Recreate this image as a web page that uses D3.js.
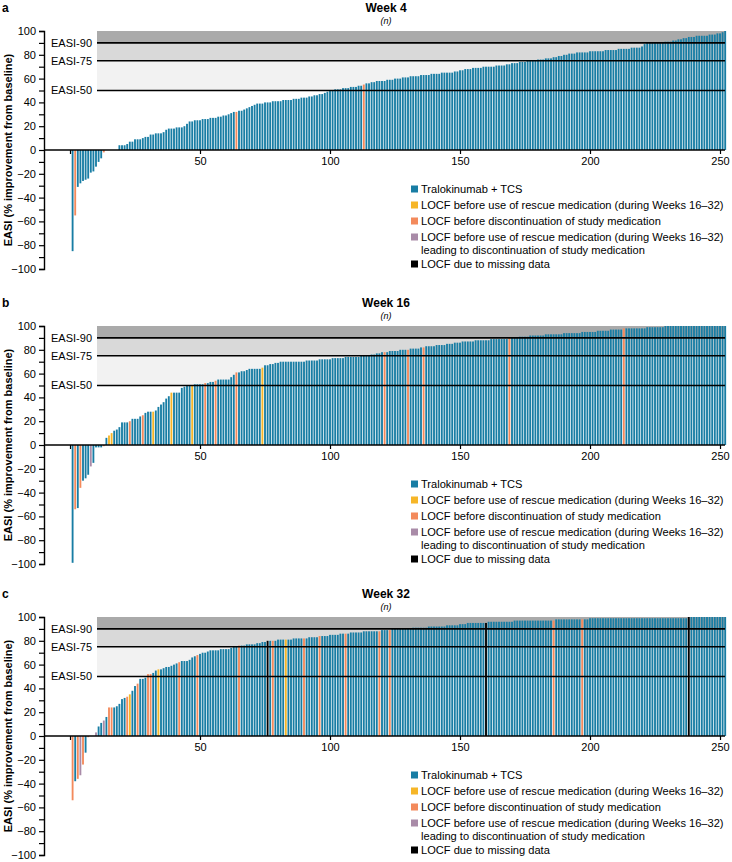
<!DOCTYPE html>
<html><head><meta charset="utf-8">
<script src="https://cdn.jsdelivr.net/npm/d3@7"></script>
<style>body{margin:0;background:#fff}svg{display:block;font-family:"Liberation Sans",Arial,sans-serif}</style>
</head><body><svg id="chart" width="732" height="862"></svg>
<script>
// ---------- DATA ----------
const panelLetters = ["a", "b", "c"];
const weekLabels = ["Week 4", "Week 16", "Week 32"];
const xTickValues = [0, 50, 100, 150, 200, 250];
const yTickValues = d3.range(-100, 101, 10);
const thresholds = [90, 75, 50];
const thresholdLabels = ["EASI-90", "EASI-75", "EASI-50"];

const week4 = [
 -85,-55,-31,-28,-26,-25,-24,-19,-18,-14,-10,-7,-2,
 0,0,0,0,0,
 4,4,4,5,7,7, 9,9,9,10,11,11, 13,13,14,14,14,15, 17,18,18,18,19,19,
 19,20,22,24,24,25, 25,25,26,26,26,27, 27,27,28,28,29,29, 30,31,32,32,33,33,
 34,35,36,37,38,39, 39,39,40,40,40,41, 41,41,41,42,42,42, 42,43,43,43,44,44,
 44,45,45,46,46,47, 47,48,49,50,50,51, 51,51,52,52,52,53, 53,53,54,54,55,56,
 56,57,57,58,58,58, 58,59,59,59,60,60, 60,61,61,61,62,62, 62,62,63,63,63,63,
 64,64,64,64,65,65, 65,65,65,66,66,67, 67,68,68,68,69,69, 69,69,70,70,70,70,
 70,71,71,71,71,72, 72,73,73,73,74,74, 74,75,75,75,75,76, 76,76,77,77,77,78,
 78,79,79,80,80,81, 81,81,82,82,82,82, 82,83,83,83,83,83, 83,84,84,84,84,84,
 85,85,85,85,85,86, 86,86,86,87,89,90, 90,90,90,90,90,90, 91,91,91,92,92,93,
 93,94,94,95,95,95, 96,96,96,96,96,97, 97,97,98,98,99,100
];
const week16 = [
 -99,-54,-53,-36,-30,-28,-25,-18,-15,-2,-2,-2,-1,
 6,8,10,12,13,15, 19,19,19,20,22,22, 22,24,25,27,28,28, 28,29,32,34,36,39,
 41,44,44,44,44,48, 49,50,50,50,51,51, 51,51,52,52,53,53, 54,55,55,55,55,55,
 57,59,61,61,62,62, 63,64,64,64,64,64, 65,67,67,68,68,69, 69,70,70,70,70,70,
 70,70,70,70,70,71, 71,71,71,71,72,72, 72,72,72,73,73,73, 73,73,74,74,74,74,
 74,74,75,75,75,75, 76,76,77,77,78,78, 78,79,79,79,79,80, 80,80,80,81,81,81,
 81,82,82,83,83,83, 83,84,84,84,84,85, 85,85,86,86,86,87, 87,87,87,87,88,88,
 88,88,88,88,89,89, 89,89,89,89,89,90, 90,90,90,91,91,91, 91,92,92,92,92,92,
 92,93,93,93,93,93, 93,93,94,94,94,94, 94,94,94,95,95,95, 95,95,95,96,96,96,
 96,96,97,97,97,97, 97,98,98,98,98,98, 98,98,98,98,99,99, 99,99,99,99,99,100,
 100,100,100,100,100,100, 100,100,100,100,100,100, 100,100,100,100,100,100, 100,100,100,100,100
];
const week32 = [
 -54,-38,-36,-33,-24,-14, -1,0,0,3,8,11, 13,16,24,24,24,25, 27,31,32,33,35,38,
 42,44,48,48,49,52, 52,53,55,56,56,57, 58,58,59,60,61,62, 63,63,63,64,66,67,
 68,69,70,70,71,72, 72,72,72,73,73,73, 73,74,75,75,76,76, 76,77,77,77,77,78,
 78,79,79,80,80,80, 80,81,81,81,81,81, 81,82,82,82,82,82, 82,83,83,83,83,84,
 84,84,84,85,85,85, 85,86,86,86,86,87, 87,87,87,87,88,88, 88,88,88,88,88,89,
 89,89,89,90,90,90, 90,90,90,90,90,91, 91,91,91,91,91,92, 92,92,92,92,92,92,
 93,93,93,93,93,94, 94,94,95,95,95,95, 95,95,95,95,96,96, 96,96,96,96,96,96,
 96,96,97,97,97,97, 97,97,97,97,97,97, 97,97,97,97,97,97, 98,98,98,98,98,98,
 98,98,98,98,98,98, 98,99,99,99,99,99, 99,99,99,99,99,99, 99,99,99,99,99,99,
 99,99,99,99,99,99, 99,99,99,99,99,99, 99,99,99,99,99,99, 99,99,99,100,100,100,
 100,100,100,100,100,100, 100,100,100,100,100,100
];
// patient ranks (1-based) with imputed values, by category
const rescue4 = [], discont4 = [2, 13, 64, 113], rescueDisc4 = [], missing4 = [];
const rescue16 = [15, 16, 32, 39, 47, 74];
const discont16 = [2, 4, 13, 23, 28, 52, 56, 64, 121, 130, 136, 169, 213];
const rescueDisc16 = [8], missing16 = [];
const rescue32 = [23, 34, 83];
const discont32 = [1, 3, 5, 7, 15, 16, 22, 26, 30, 31, 42, 49, 65, 78, 90, 96, 106, 119, 123, 186, 197];
const rescueDisc32 = [4, 10, 13], missing32 = [76, 160, 238];

const legendLabels = [
  ["Tralokinumab + TCS"],
  ["LOCF before use of rescue medication (during Weeks 16\u201332)"],
  ["LOCF before discontinuation of study medication"],
  ["LOCF before use of rescue medication (during Weeks 16\u201332)", "leading to discontinuation of study medication"],
  ["LOCF due to missing data"]
];
const categoryKeys = ["tralo", "rescue", "discont", "rescueDisc", "missing"];

// ---------- STYLE / LAYOUT ----------
const colors = { tralo: "#187da4", rescue: "#f6b628", discont: "#f38a5c", rescueDisc: "#a98ba8", missing: "#000000" };
const bandColors = ["#aaaaaa", "#d9d9d9", "#f2f2f2"];
const zeros = [150, 445, 736];
const halfH = 119;
const axisX = 44, bandX0 = 97, plotRight = 725;

const panels = [
  { values: week4, cats: { rescue: rescue4, discont: discont4, rescueDisc: rescueDisc4, missing: missing4 } },
  { values: week16, cats: { rescue: rescue16, discont: discont16, rescueDisc: rescueDisc16, missing: missing16 } },
  { values: week32, cats: { rescue: rescue32, discont: discont32, rescueDisc: rescueDisc32, missing: missing32 } }
];

const svg = d3.select("#chart");
const x = d3.scaleLinear().domain([0, 250]).range([70, 720]);
const barW = 1.85;

panels.forEach((p, k) => {
  const z = zeros[k];
  const y = d3.scaleLinear().domain([-100, 100]).range([z + halfH, z - halfH]);
  const g = svg.append("g");
  const catOf = new Map();
  Object.entries(p.cats).forEach(([key, arr]) => arr.forEach(r => catOf.set(r, key)));
  const rows = p.values.map((v, i) => ({ rank: i + 1, v, cat: catOf.get(i + 1) || "tralo" }));

  // threshold bands
  const bandEdges = [100, 90, 75, 50];
  bandColors.forEach((c, j) => {
    g.append("rect").attr("x", bandX0).attr("width", plotRight - bandX0)
      .attr("y", y(bandEdges[j])).attr("height", y(bandEdges[j + 1]) - y(bandEdges[j]))
      .attr("fill", c);
  });

  // bars
  g.selectAll("rect.bar").data(rows.filter(d => d.v !== 0)).join("rect")
    .attr("class", "bar")
    .attr("x", d => x(d.rank) - barW / 2)
    .attr("width", barW)
    .attr("y", d => y(Math.max(0, d.v)))
    .attr("height", d => Math.abs(y(d.v) - y(0)))
    .attr("fill", d => colors[d.cat]);

  // threshold lines + labels
  thresholds.forEach((t, j) => {
    g.append("line").attr("x1", bandX0).attr("x2", plotRight)
      .attr("y1", y(t)).attr("y2", y(t)).attr("stroke", "#000").attr("stroke-width", 1.6);
    g.append("text").attr("x", bandX0 - 5).attr("y", y(t)).attr("dy", "0.35em")
      .attr("text-anchor", "end").attr("font-size", 11).text(thresholdLabels[j]);
  });

  // y axis
  const ya = d3.axisLeft(y).tickValues(yTickValues).tickSize(5).tickPadding(3)
    .tickFormat(d => d % 20 === 0 ? (d < 0 ? "\u2212" + Math.abs(d) : d) : "");
  const yg = g.append("g").attr("transform", `translate(${axisX},0)`).call(ya);
  yg.select(".domain").attr("stroke-width", 1.4);
  yg.selectAll(".tick line").attr("stroke-width", 1.2);
  yg.selectAll("text").attr("font-size", 11).attr("font-family", "Liberation Sans, Arial, sans-serif");

  // x axis at zero
  const xa = d3.axisBottom(x).tickValues(xTickValues).tickSize(4).tickPadding(3)
    .tickFormat(d => d === 0 ? "" : d);
  const xg = g.append("g").attr("transform", `translate(0,${y(0)})`).call(xa);
  xg.select(".domain").attr("d", `M${axisX},0H${plotRight}`).attr("stroke-width", 1.4);
  xg.selectAll(".tick line").attr("stroke-width", 1.2);
  xg.selectAll("text").attr("font-size", 11).attr("font-family", "Liberation Sans, Arial, sans-serif");

  // titles
  g.append("text").attr("x", 2).attr("y", z - 138).attr("font-size", 12).attr("font-weight", "bold").text(panelLetters[k]);
  g.append("text").attr("x", 386).attr("y", z - 138).attr("text-anchor", "middle")
    .attr("font-size", 12).attr("font-weight", "bold").text(weekLabels[k]);
  g.append("text").attr("x", 386).attr("y", z - 126).attr("text-anchor", "middle")
    .attr("font-size", 9).attr("font-style", "italic").text("(n)");

  // y title
  g.append("text").attr("transform", `translate(12,${z}) rotate(-90)`).attr("text-anchor", "middle")
    .attr("font-size", 11).attr("font-weight", "bold").text("EASI (% improvement from baseline)");

  // legend
  const legOffsets = [39, 55, 71, 87, 114];
  legendLabels.forEach((lines, j) => {
    const cy = z + legOffsets[j];
    g.append("rect").attr("x", 411).attr("y", cy - 3.5).attr("width", 7).attr("height", 7).attr("fill", colors[categoryKeys[j]]);
    lines.forEach((ln, m) => {
      g.append("text").attr("x", 421).attr("y", cy + m * 13).attr("dy", "0.35em").attr("font-size", 11.1).text(ln);
    });
  });
});
</script></body></html>
